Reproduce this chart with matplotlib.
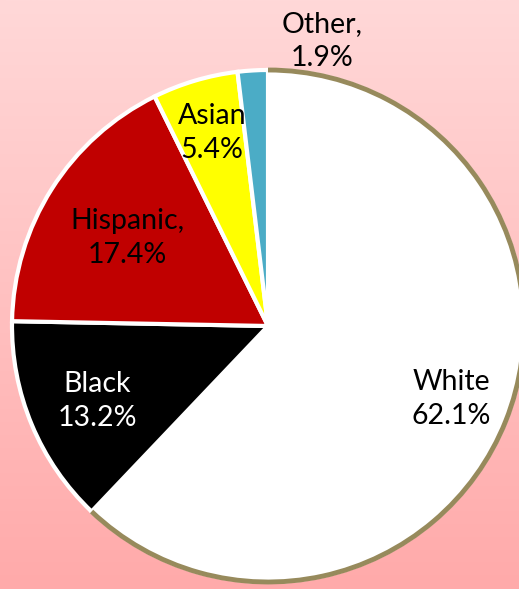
import numpy as np
import matplotlib.pyplot as plt
from matplotlib.patches import Arc

# population share by group
groups = ['White', 'Black', 'Hispanic', 'Asian', 'Other']
shares = [62.1, 13.2, 17.4, 5.4, 1.9]
label_texts = ['White\n62.1%', 'Black\n13.2%', 'Hispanic,\n17.4%', 'Asian\n5.4%', 'Other,\n1.9%']
colors = ['#FFFFFF', '#000000', '#C00000', '#FFFF00', '#4BACC6']
text_colors = ['black', 'white', 'black', 'black', 'black']

# label positions in pixel coords (x, y from top)
label_pos = [(451, 399), (97, 401), (127, 238), (212, 133), (322, 41)]

W, H = 519, 589
fig = plt.figure(figsize=(W / 100, H / 100), dpi=100)
ax = fig.add_axes([0, 0, 1, 1])
ax.set_xlim(0, W)
ax.set_ylim(0, H)
ax.axis('off')

# pink vertical gradient background
grad = np.linspace(0, 1, 256).reshape(-1, 1)
top = np.array([255, 216, 216]) / 255
bot = np.array([255, 170, 170]) / 255
img = top + (bot - top) * grad[:, :, None]
ax.imshow(img, extent=[0, W, 0, H], aspect='auto', zorder=0, origin='upper')

cx, cy, r = 268, H - 326, 256
wedges, _ = ax.pie(shares, colors=colors, startangle=90, counterclock=False,
                   center=(cx, cy), radius=r, frame=True,
                   wedgeprops=dict(edgecolor='white', linewidth=3))
for w in wedges:
    w.set_zorder(2)

# olive outline on the outer edge of the White slice
end_angle = 90 - shares[0] / 100 * 360
ax.add_patch(Arc((cx, cy), 2 * r, 2 * r, theta1=end_angle, theta2=90,
                 color='#978A5C', linewidth=3.5, zorder=3))

ax.set_xlim(0, W)
ax.set_ylim(0, H)
ax.set_aspect('auto')

for txt, (px, py), tc in zip(label_texts, label_pos, text_colors):
    ax.text(px, H - py, txt, ha='center', va='center', color=tc,
            fontsize=20.5, family='Lato', linespacing=1.4, zorder=4)

fig.savefig('out.png', dpi=100)
